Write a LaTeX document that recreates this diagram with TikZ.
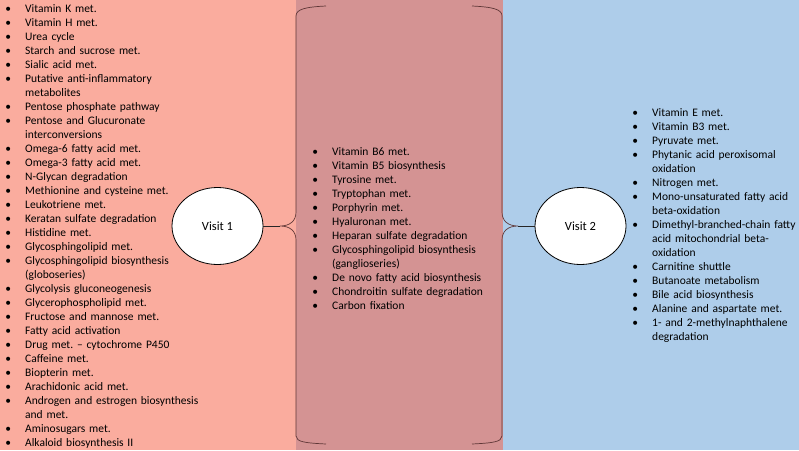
\documentclass[tikz,border=0pt]{standalone}
\usepackage{fontspec}
\setmainfont{Carlito}
\usetikzlibrary{shapes.geometric}
\definecolor{salmon}{RGB}{250,172,158}
\definecolor{rosepanel}{RGB}{212,147,147}
\definecolor{skypanel}{RGB}{174,205,234}
\definecolor{bracecol}{RGB}{95,55,55}
\frenchspacing
\newcommand{\itm}[1]{\par\noindent\hangindent=25pt\hangafter=1\makebox[25pt][l]{\makebox[16pt][c]{\textbullet}}#1}
\tikzset{
  listbox/.style={inner sep=0pt, anchor=base west, text width=290pt,
    font=\fontsize{11.5pt}{14pt}\selectfont\raggedright\frenchspacing, text=black},
  visit/.style={ellipse, draw=black, line width=0.8pt, fill=white,
    minimum width=91pt, minimum height=77pt, inner sep=0pt,
    font=\fontsize{12.5pt}{15pt}\selectfont},
  bracestyle/.style={draw=bracecol, line width=0.7pt},
  conn/.style={draw=black!85, line width=0.7pt}
}
\begin{document}
\begin{tikzpicture}[x=1pt,y=-1pt]
\useasboundingbox (0,0) rectangle (799,450);
\fill[salmon] (0,0) rectangle (296,450);
\fill[rosepanel] (296,0) rectangle (503,450);
\fill[skypanel] (503,0) rectangle (799,450);

% braces
\coordinate (tipL) at (280,226);
\coordinate (tipR) at (518,226);
\draw[bracestyle] (326,6) .. controls (306,7) and (296,9) .. (296,16)
  -- (296,212) .. controls (296,221) and (290,226) .. (tipL)
  .. controls (290,226) and (296,231) .. (296,240)
  -- (296,436) .. controls (296,442) and (306,443) .. (326,444);
\draw[bracestyle] (472,6) .. controls (492,7) and (502,9) .. (502,16)
  -- (502,212) .. controls (502,221) and (508,226) .. (tipR)
  .. controls (508,226) and (502,231) .. (502,240)
  -- (502,436) .. controls (502,442) and (492,443) .. (472,444);

% lists
\node[listbox] (leftlist) at (0,-1.5) {%
\itm{Vitamin K met.}
\itm{Vitamin H met.}
\itm{Urea cycle}
\itm{Starch and sucrose met.}
\itm{Sialic acid met.}
\itm{Putative anti-inflammatory\newline metabolites}
\itm{Pentose phosphate pathway}
\itm{Pentose and Glucuronate\newline interconversions}
\itm{Omega-6 fatty acid met.}
\itm{Omega-3 fatty acid met.}
\itm{N-Glycan degradation}
\itm{Methionine and cysteine met.}
\itm{Leukotriene met.}
\itm{Keratan sulfate degradation}
\itm{Histidine met.}
\itm{Glycosphingolipid met.}
\itm{Glycosphingolipid biosynthesis\newline (globoseries)}
\itm{Glycolysis gluconeogenesis}
\itm{Glycerophospholipid met.}
\itm{Fructose and mannose met.}
\itm{Fatty acid activation}
\itm{Drug met. – cytochrome P450}
\itm{Caffeine met.}
\itm{Biopterin met.}
\itm{Arachidonic acid met.}
\itm{Androgen and estrogen biosynthesis\newline and met.}
\itm{Aminosugars met.}
\itm{Alkaloid biosynthesis II}\par};

\node[listbox, text width=190pt] (midlist) at (307,141) {%
\itm{Vitamin B6 met.}
\itm{Vitamin B5 biosynthesis}
\itm{Tyrosine met.}
\itm{Tryptophan met.}
\itm{Porphyrin met.}
\itm{Hyaluronan met.}
\itm{Heparan sulfate degradation}
\itm{Glycosphingolipid biosynthesis\newline (ganglioseries)}
\itm{De novo fatty acid biosynthesis}
\itm{Chondroitin sulfate degradation}
\itm{Carbon fixation}\par};

\node[listbox, text width=170pt] (rightlist) at (627,102.5) {%
\itm{Vitamin E met.}
\itm{Vitamin B3 met.}
\itm{Pyruvate met.}
\itm{Phytanic acid peroxisomal\newline oxidation}
\itm{Nitrogen met.}
\itm{Mono-unsaturated fatty acid\newline beta-oxidation}
\itm{Dimethyl-branched-chain fatty\newline acid mitochondrial beta-\newline oxidation}
\itm{Carnitine shuttle}
\itm{Butanoate metabolism}
\itm{Bile acid biosynthesis}
\itm{Alanine and aspartate met.}
\itm{1- and 2-methylnaphthalene\newline degradation}\par};

% visits
\node[visit] (v1) at (217.5,226) {Visit 1};
\node[visit] (v2) at (580.5,226) {Visit 2};
\draw[conn] (v1.east) -- (tipL);
\draw[conn] (v2.west) -- (tipR);
\end{tikzpicture}
\end{document}
